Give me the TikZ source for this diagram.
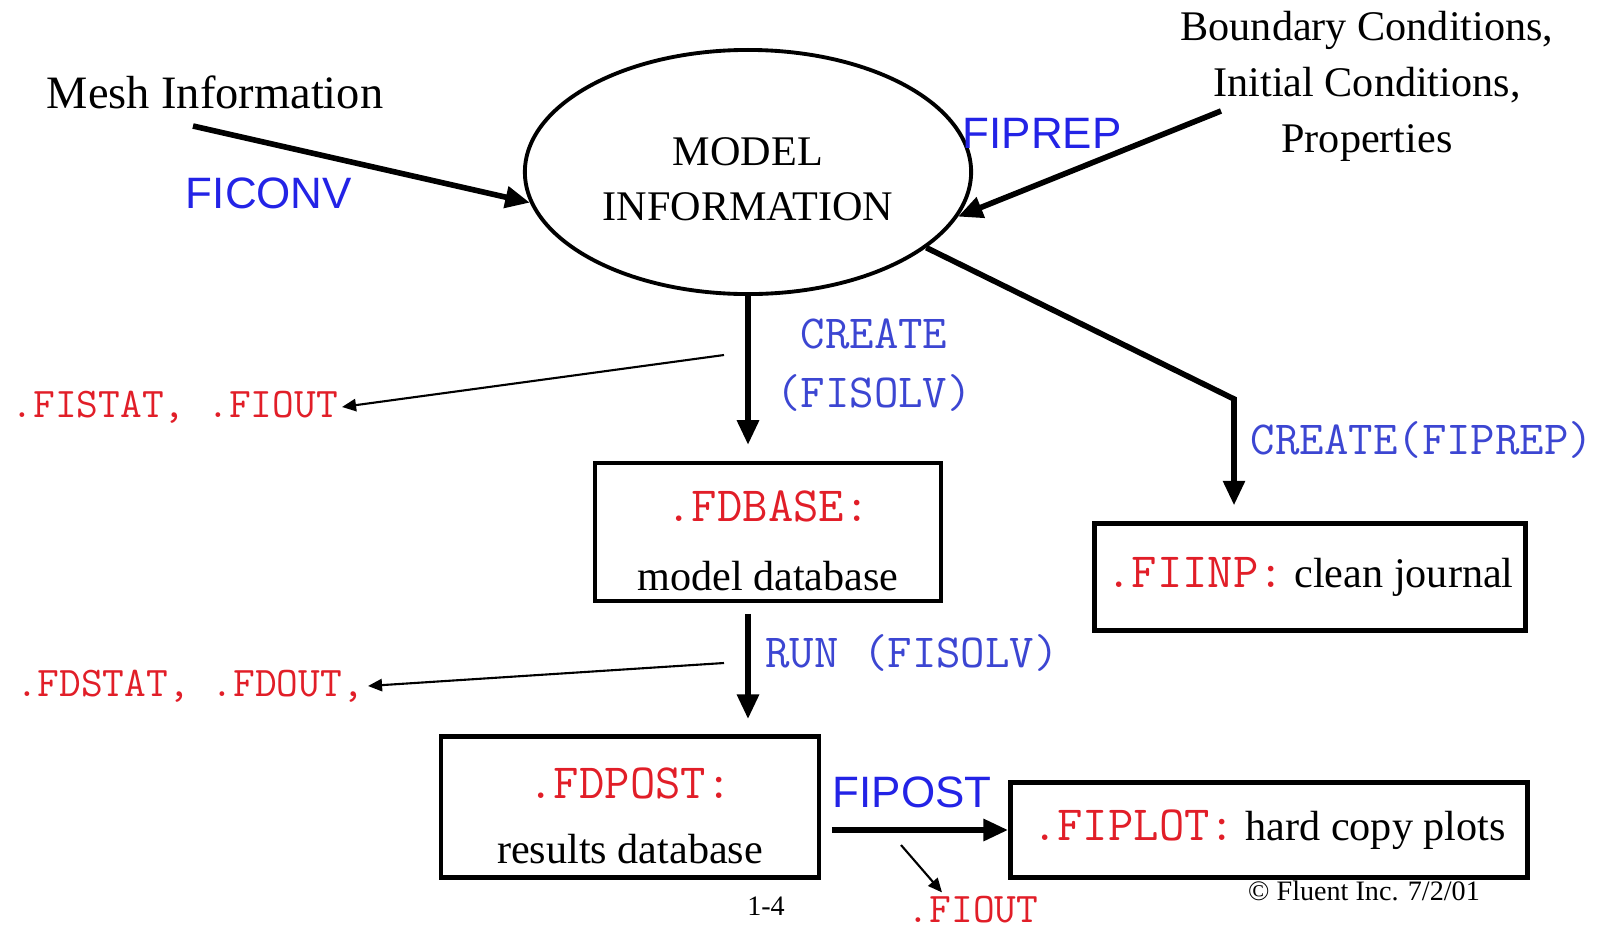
\documentclass[tikz,border=0pt]{standalone}
\usepackage{fontspec}
\setmainfont{Liberation Serif}
\setsansfont{Liberation Sans}
\usetikzlibrary{arrows.meta, positioning, calc, shapes.geometric}

\definecolor{fired}{RGB}{225,30,40}
\definecolor{fiblue}{RGB}{35,35,230}
\definecolor{cmdblue}{RGB}{60,70,210}

\newcommand{\fname}[1]{\textcolor{fired}{\ttfamily\fontsize{14}{15}\selectfont #1}}

\tikzset{
  heavy/.style={line width=1.6pt, -{Triangle[length=7pt,width=6pt]}},
  light/.style={line width=0.6pt, -{Triangle[length=4pt,width=3.5pt]}},
  filebox/.style={draw, line width=1.3pt, rectangle, inner sep=0pt},
  prog/.style={text=fiblue, font=\sffamily\fontsize{12.5}{14}\selectfont},
  cmd/.style={text=cmdblue, font=\ttfamily\fontsize{13.5}{16.8}\selectfont},
  outfile/.style={text=fired, inner sep=1pt, font=\ttfamily\fontsize{12}{12}\selectfont},
  plain/.style={font=\fontsize{12}{15}\selectfont}
}

\begin{document}
\begin{tikzpicture}[x=0.01cm, y=-0.01cm]
    \useasboundingbox (0,0) rectangle (1606,927);

    % Model information
    \node[ellipse, draw, line width=1.1pt, minimum width=4.46cm, minimum height=2.44cm, align=center,
          font=\fontsize{12}{15.6}\selectfont] (model) at (748,172) {\rule{0pt}{12pt}MODEL\\INFORMATION};

    % Inputs
    \node[plain, font=\fontsize{13.2}{16}\selectfont] (mesh) at (215,92) {Mesh Information};
    \node[plain, align=center, font=\fontsize{12}{15.9}\selectfont] (bc) at (1367,86)
        {Boundary Conditions,\\Initial Conditions,\\Properties};
    \coordinate (meshout) at (193,126);
    \coordinate (bcout) at (1221,111);
    \draw[heavy] (meshout) -- (model.188);
    \draw[heavy] (bcout) -- (model.348);
    \node[prog] (ficonv) at (269,193) {FICONV};
    \node[prog] (fiprep) at (1042,133) {FIPREP};

    % Files
    \node[filebox, minimum width=3.46cm, minimum height=1.38cm, align=center,
          font=\fontsize{12}{19.6}\selectfont] (fdbase) at (768,532)
        {\rule{0pt}{14pt}\fname{.FDBASE:}\\model database};
    \node[filebox, minimum width=4.31cm, minimum height=1.07cm, plain] (fiinp) at (1310,577)
        {\fname{.FIINP:} clean journal};
    \node[filebox, minimum width=3.78cm, minimum height=1.41cm, align=center,
          font=\fontsize{12}{18.5}\selectfont] (fdpost) at (630,807)
        {\rule{0pt}{14pt}\fname{.FDPOST:}\\results database};
    \node[filebox, minimum width=5.17cm, minimum height=0.95cm, plain] (fiplot) at (1269,830)
        {\fname{.FIPLOT:} hard copy plots};

    % Main flow
    \draw[heavy, shorten >=4.5pt] (model.south) -- (model.south |- fdbase.north);
    \node[cmd, align=center] (create) at (874,365) {CREATE\\(FISOLV)};
    \coordinate (bend) at (1234,399);
    \draw[heavy, shorten >=4.5pt] (model.337) -- (bend) -- (bend |- fiinp.north);
    \node[cmd] (createprep) at (1422,440) {CREATE(FIPREP)};
    \draw[heavy, shorten <=3pt, shorten >=4.3pt] (model.south |- fdbase.south) -- (model.south |- fdpost.north);
    \node[cmd] (run) at (912,653) {RUN (FISOLV)};
    \draw[heavy, shorten <=3pt] (fdpost.east |- fiplot.west) -- (fiplot.west);
    \node[prog] (fipost) at (912,792) {FIPOST};

    % Side outputs
    \node[outfile, anchor=east] (fistat) at (342,407) {.FISTAT, .FIOUT};
    \coordinate (solvlog) at (724,355);
    \draw[light] (solvlog) -- (fistat.east);
    \node[outfile, anchor=east] (fdstat) at (368,686) {.FDSTAT, .FDOUT,};
    \coordinate (runlog) at (724,663);
    \draw[light] (runlog) -- (fdstat.east);
    \node[outfile] (fiout) at (973,910) {.FIOUT};
    \coordinate (postlog) at (901,845);
    \draw[light] (postlog) -- ($(fiout.north)+(-31,0)$);

    \node[font=\fontsize{8}{10}\selectfont] (copy) at (1364,891) {© Fluent Inc. 7/2/01};
    \node[font=\fontsize{8}{10}\selectfont] (page) at (766,906) {1-4};
\end{tikzpicture}
\end{document}
